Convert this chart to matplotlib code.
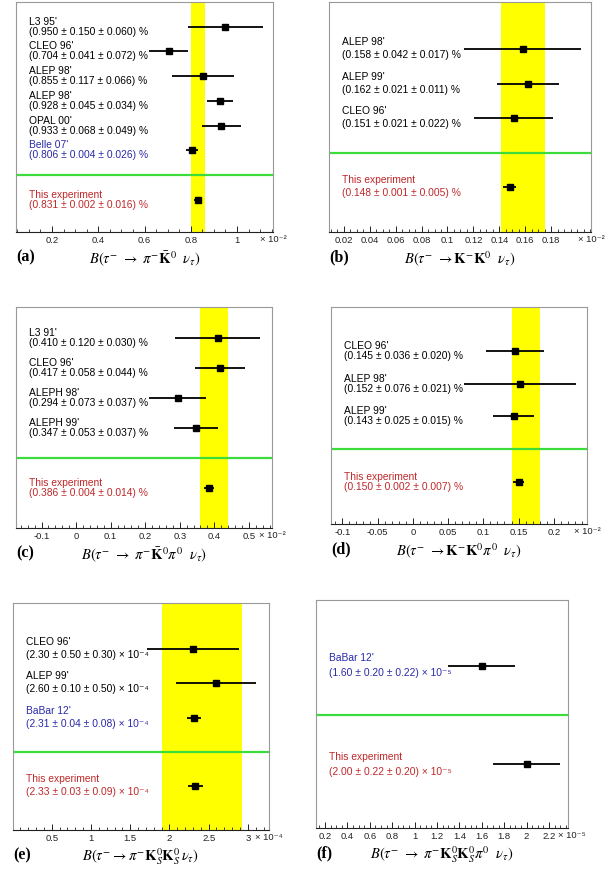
import numpy as np
import matplotlib
matplotlib.use("Agg")
import matplotlib.pyplot as plt
from matplotlib.ticker import MultipleLocator, FixedLocator, FormatStrFormatter

plt.rcParams["mathtext.fontset"] = "stix"
SANS = ["Liberation Sans", "DejaVu Sans"]

# measurements per channel: name, central value, stat and syst errors
a_names = ["L3 95'", "CLEO 96'", "ALEP 98'", "ALEP 98'", "OPAL 00'", "Belle 07'", "This experiment"]
a_val = [0.950, 0.704, 0.855, 0.928, 0.933, 0.806, 0.831]
a_stat = [0.150, 0.041, 0.117, 0.045, 0.068, 0.004, 0.002]
a_syst = [0.060, 0.072, 0.066, 0.034, 0.049, 0.026, 0.016]
a_band = (0.80, 0.86)
a_ticks = [0.2, 0.4, 0.6, 0.8, 1.0]

b_names = ["ALEP 98'", "ALEP 99'", "CLEO 96'", "This experiment"]
b_val = [0.158, 0.162, 0.151, 0.148]
b_stat = [0.042, 0.021, 0.021, 0.001]
b_syst = [0.017, 0.011, 0.022, 0.005]
b_band = (0.141, 0.175)
b_ticks = [0.02, 0.04, 0.06, 0.08, 0.10, 0.12, 0.14, 0.16, 0.18]

c_names = ["L3 91'", "CLEO 96'", "ALEPH 98'", "ALEPH 99'", "This experiment"]
c_val = [0.410, 0.417, 0.294, 0.347, 0.386]
c_stat = [0.120, 0.058, 0.073, 0.053, 0.004]
c_syst = [0.030, 0.044, 0.037, 0.037, 0.014]
c_band = (0.36, 0.44)
c_ticks = [-0.1, 0.0, 0.1, 0.2, 0.3, 0.4, 0.5]

d_names = ["CLEO 96'", "ALEP 98'", "ALEP 99'", "This experiment"]
d_val = [0.145, 0.152, 0.143, 0.150]
d_stat = [0.036, 0.076, 0.025, 0.002]
d_syst = [0.020, 0.021, 0.015, 0.007]
d_band = (0.14, 0.18)
d_ticks = [-0.1, -0.05, 0.0, 0.05, 0.1, 0.15, 0.2]

e_names = ["CLEO 96'", "ALEP 99'", "BaBar 12'", "This experiment"]
e_val = [2.30, 2.60, 2.31, 2.33]
e_stat = [0.50, 0.10, 0.04, 0.03]
e_syst = [0.30, 0.50, 0.08, 0.09]
e_band = (1.90, 2.92)
e_ticks = [0.5, 1.0, 1.5, 2.0, 2.5, 3.0]

f_names = ["BaBar 12'", "This experiment"]
f_val = [1.60, 2.00]
f_stat = [0.20, 0.22]
f_syst = [0.22, 0.20]
f_band = None
f_ticks = [0.2, 0.4, 0.6, 0.8, 1.0, 1.2, 1.4, 1.6, 1.8, 2.0, 2.2]

name_colors = {"This experiment": "#c0282a", "Belle 07'": "#2a2aa8", "BaBar 12'": "#2a2aa8"}

W, H = 608, 869
fig = plt.figure(figsize=(W / 100, H / 100), dpi=100)


def panel(rect, names, val, stat, syst, band, ticks, minor, xlim, ylim,
          digits, expo, gap, letter, title, mult_dx=0):
    l, t, r, b = rect
    ax = fig.add_axes([l / W, 1 - b / H, (r - l) / W, (b - t) / H])
    n = len(names) - 1
    ys = list(range(n)) + [n + 1]
    tot = np.hypot(stat, syst)

    if band is not None:
        ax.axvspan(band[0], band[1], color="#ffff00", zorder=0, lw=0)
    ax.axhline(n, color="#3ddc3d", lw=1.6, zorder=1)
    ax.errorbar(val, ys, xerr=tot, fmt="s", color="black", ms=4.6,
                elinewidth=1.3, capsize=0, zorder=3)

    if expo == -2:
        unit = " %"
    else:
        unit = " × 10" + {-4: "⁻⁴", -5: "⁻⁵"}[expo]
    for name, v, s1, s2, y in zip(names, val, stat, syst, ys):
        col = name_colors.get(name, "#000000")
        txt = "({0:.{d}f} ± {1:.{d}f} ± {2:.{d}f})".format(v, s1, s2, d=digits) + unit
        ax.annotate(name, xy=(0.05, y), xycoords=("axes fraction", "data"),
                    xytext=(0, gap[0]), textcoords="offset pixels",
                    va="center", ha="left", fontsize=7.4, color=col, family=SANS)
        ax.annotate(txt, xy=(0.05, y), xycoords=("axes fraction", "data"),
                    xytext=(0, -gap[1]), textcoords="offset pixels",
                    va="center", ha="left", fontsize=7.4, color=col, family=SANS)

    ax.set_xlim(*xlim)
    ax.set_ylim(*ylim)
    ax.set_yticks([])
    ax.xaxis.set_major_locator(FixedLocator(ticks))
    ax.xaxis.set_minor_locator(MultipleLocator(minor))
    ax.xaxis.set_major_formatter(FormatStrFormatter("%g"))
    ax.tick_params(axis="x", which="both", direction="in", colors="#222222",
                   labelsize=6.8, pad=3)
    ax.tick_params(axis="x", which="major", length=4.5, width=0.7)
    ax.tick_params(axis="x", which="minor", length=2.5, width=0.6)
    for lab in ax.get_xticklabels():
        lab.set_family(SANS)
    for side in ("top", "left", "right"):
        ax.spines[side].set_color("#999999")
        ax.spines[side].set_linewidth(0.8)
    ax.spines["bottom"].set_color("#222222")
    ax.spines["bottom"].set_linewidth(0.8)

    ax.annotate("× 10" + {-2: "⁻²", -4: "⁻⁴", -5: "⁻⁵"}[expo], xy=(1.0, 0),
                xycoords="axes fraction", xytext=(mult_dx, -7), textcoords="offset pixels",
                ha="center", va="center", fontsize=6.8, color="#222222", family=SANS)
    ax.annotate(letter, xy=(0, 0), xycoords="axes fraction", xytext=(0, -25),
                textcoords="offset pixels", ha="left", va="center", fontsize=11.5,
                fontweight="bold", family="Liberation Serif")
    ax.annotate(title, xy=(0.5, 0), xycoords="axes fraction", xytext=(0, -27),
                textcoords="offset pixels", ha="center", va="center", fontsize=10.5)
    return ax


panel((16, 2, 273, 232), a_names, a_val, a_stat, a_syst, a_band, a_ticks, 0.05,
      (0.044, 1.156), (8.3, -1.0), 3, -2, (5, 5), "(a)",
      r"$B(\tau^{-}\ \rightarrow\ \pi^{-}\bar{\mathbf{K}}^{0}\ \ \nu_{\tau})$")
panel((329, 2, 591, 232), b_names, b_val, b_stat, b_syst, b_band, b_ticks, 0.005,
      (0.0086, 0.2107), (5.3, -1.36), 3, -2, (7, 6), "(b)",
      r"$B(\tau^{-}\ \rightarrow \mathbf{K}^{-}\mathbf{K}^{0}\ \ \nu_{\tau})$")
panel((16, 307, 272, 528), c_names, c_val, c_stat, c_syst, c_band, c_ticks, 0.02,
      (-0.174, 0.567), (6.32, -1.02), 3, -2, (5, 5), "(c)",
      r"$B(\tau^{-}\ \rightarrow\ \pi^{-}\bar{\mathbf{K}}^{0}\pi^{0}\ \ \nu_{\tau})$")
panel((331, 307, 587, 524), d_names, d_val, d_stat, d_syst, d_band, d_ticks, 0.01,
      (-0.116, 0.247), (5.29, -1.34), 3, -2, (5, 5), "(d)",
      r"$B(\tau^{-}\ \rightarrow \mathbf{K}^{-}\mathbf{K}^{0}\pi^{0}\ \ \nu_{\tau})$")
panel((13, 603, 269, 830), e_names, e_val, e_stat, e_syst, e_band, e_ticks, 0.1,
      (0.005, 3.27), (5.3, -1.36), 2, -4, (7, 6), "(e)",
      r"$B(\tau^{-} \rightarrow \pi^{-}\mathbf{K}_{S}^{0}\mathbf{K}_{S}^{0}\,\nu_{\tau})$")
panel((316, 600, 568, 828), f_names, f_val, f_stat, f_syst, f_band, f_ticks, 0.05,
      (0.12, 2.37), (3.3, -1.34), 2, -5, (7.5, 7.5), "(f)",
      r"$B(\tau^{-}\ \rightarrow\ \pi^{-}\mathbf{K}_{S}^{0}\mathbf{K}_{S}^{0}\pi^{0}\ \ \nu_{\tau})$",
      mult_dx=4)

fig.savefig("out.png", dpi=100)
